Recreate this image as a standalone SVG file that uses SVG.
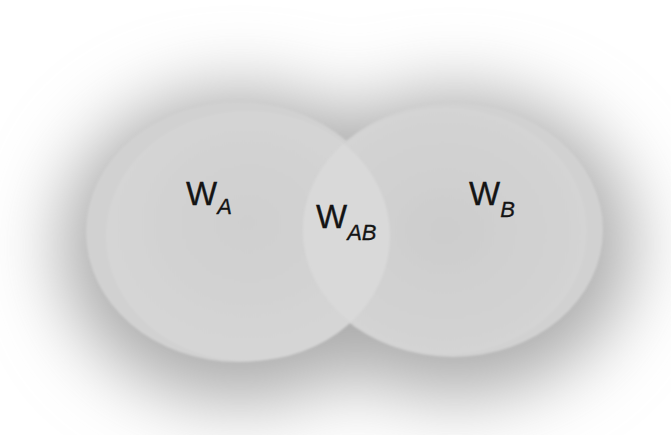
<svg xmlns="http://www.w3.org/2000/svg" width="671" height="435" viewBox="0 0 671 435">
  <defs>
    <filter id="soft" x="-50%" y="-50%" width="200%" height="200%">
      <feGaussianBlur stdDeviation="36"/>
    </filter>
    <filter id="edge" x="-10%" y="-10%" width="120%" height="120%">
      <feGaussianBlur stdDeviation="1.2"/>
    </filter>
    <radialGradient id="fillA" cx="0.5" cy="0.45" r="0.6">
      <stop offset="0" stop-color="#cfcfcf"/>
      <stop offset="1" stop-color="#d6d6d6"/>
    </radialGradient>
    <radialGradient id="fillB" cx="0.5" cy="0.5" r="0.6">
      <stop offset="0" stop-color="#cdcdcd"/>
      <stop offset="1" stop-color="#d5d5d5"/>
    </radialGradient>
    <clipPath id="clipA">
      <ellipse cx="248" cy="236" rx="142" ry="125"/>
    </clipPath>
    <style>
      .label { font-family: "Liberation Sans", Arial, sans-serif; font-size: 33px; fill: #141414; stroke: #141414; stroke-width: 0.3px; }
      .sub { font-size: 22px; font-style: italic; }
      .ring { fill: #d1d1d1; }
    </style>
  </defs>

  <rect width="671" height="435" fill="#ffffff"/>

  <!-- soft shadow behind both sets -->
  <g id="shadow" filter="url(#soft)">
    <ellipse cx="240" cy="246" rx="180" ry="156" fill="#acacac"/>
    <ellipse cx="455" cy="244" rx="178" ry="152" fill="#acacac"/>
  </g>

  <!-- set A -->
  <g id="node-a" filter="url(#edge)">
    <ellipse class="ring" cx="238" cy="232" rx="152" ry="130"/>
    <ellipse cx="248" cy="236" rx="142" ry="125" fill="url(#fillA)"/>
  </g>

  <!-- set B -->
  <g id="node-b" filter="url(#edge)">
    <ellipse class="ring" cx="453" cy="230" rx="150" ry="127"/>
    <ellipse cx="445" cy="231" rx="142" ry="124" fill="url(#fillB)"/>
  </g>

  <!-- overlap of A and B -->
  <g id="node-ab" filter="url(#edge)">
    <ellipse cx="453" cy="230" rx="150" ry="127" fill="#d9d9d9" clip-path="url(#clipA)"/>
  </g>

  <g id="labels">
    <text class="label" x="186" y="205">W<tspan class="sub" dy="9">A</tspan></text>
    <text class="label" x="316" y="228">W<tspan class="sub" dy="12">AB</tspan></text>
    <text class="label" x="469" y="205">W<tspan class="sub" dy="12">B</tspan></text>
  </g>
</svg>
